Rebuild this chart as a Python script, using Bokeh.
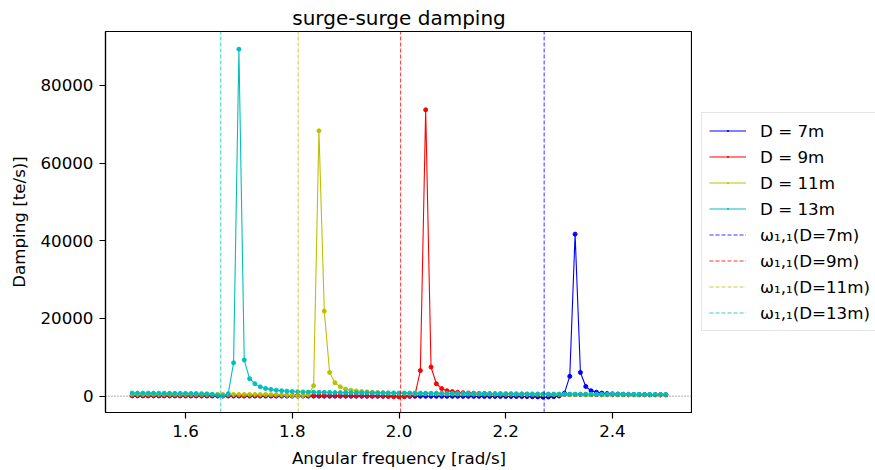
from bokeh.plotting import figure
from bokeh.layouts import row
from bokeh.models import Range1d, FixedTicker, Span, Legend, LegendItem, CustomJSTickFormatter
from bokeh.embed import file_html
from bokeh.resources import INLINE

# ---------------- data ----------------
freq = [round(1.50 + 0.01 * i, 2) for i in range(101)]  # rad/s grid

damp_d7 = [
    80, 78, 76, 74, 72, 70, 68, 66, 64, 62,
    60, 58, 56, 54, 52, 50, 48, 46, 44, 42,
    40, 38, 36, 34, 32, 30, 28, 26, 24, 22,
    20, 18, 16, 14, 12, 10, 8, 6, 4, 2,
    0, -2, -4, -6, -8, -10, -12, -14, -16, -18,
    -20, -22, -24, -26, -28, -30, -32, -34, -36, -38,
    -40, -42, -44, -46, -48, -50, -52, -54, -56, -58,
    -60, -65, -70, -80, -95,
    -130, -190, -260, -220, -120, 50,
    770, 5100, 41700, 6100,
    2500, 1400, 1030, 800, 680, 600, 545, 505, 475, 450, 430, 413, 398, 385, 374, 364,
]

damp_d9 = [
    220, 218, 216, 214, 212, 210, 208, 206, 204, 202,
    200, 198, 196, 194, 192, 190, 188, 186, 184, 182,
    180, 178, 176, 174, 172, 170, 168, 166, 164, 162,
    160, 158, 156, 154, 152, 150, 148, 146, 144, 142,
    140, 135, 130, 120, 110,
    90, 60, 20, -40, -120, -200, -150, 0, 350,
    6600, 73700, 7500,
    3200, 1950, 1400, 1180, 1000, 900, 820, 760, 710, 670, 635, 605, 580, 560,
    540, 522, 506, 492, 479, 467, 456, 446, 437, 429,
    421, 414, 407, 401, 395, 389, 384, 379, 374, 370,
    366, 362, 358, 354, 351, 348, 345, 342, 339, 336,
]

damp_d11 = [
    480, 478, 476, 474, 472, 470, 468, 466, 464, 462,
    460, 458, 456, 454, 452, 450, 448, 446, 444, 442,
    440, 435, 430, 425, 420, 410,
    390, 360, 310, 240, 150, 60, 150, 350,
    2700, 68300, 21900,
    6100, 3450, 2400, 1800, 1550, 1350, 1200, 1100, 1010, 940, 880, 830, 790, 750,
    720, 700, 680, 660, 645, 630, 615, 600, 590, 580,
    570, 560, 550, 540, 530, 520, 512, 505, 498, 490,
    483, 476, 470, 464, 458, 452, 447, 442, 437, 432,
    428, 424, 420, 416, 412, 408, 405, 402, 399, 396,
    393, 390, 387, 384, 381, 378, 375, 372, 369, 366,
]

damp_d13 = [
    800, 795, 790, 785, 780, 770, 760, 750, 740, 730, 720,
    700, 680, 650, 600, 500, 300, 60,
    650, 8600, 89300, 9300,
    4500, 3200, 2400, 2000, 1750, 1550, 1400, 1300, 1220, 1150, 1100, 1060, 1030, 1000,
    980, 960, 945, 930, 915, 900, 890, 880, 870, 860, 850, 840, 830, 820, 810,
    800, 795, 790, 785, 780, 770, 760, 750, 740, 730,
    720, 710, 700, 690, 680, 670, 660, 650, 640, 630,
    620, 610, 600, 590, 580, 570, 560, 550, 545, 540,
    535, 530, 525, 520, 515, 510, 505, 500, 495, 490,
    485, 480, 475, 470, 465, 460, 455, 450, 445, 440,
]

series_labels = ["D = 7m", "D = 9m", "D = 11m", "D = 13m"]
series_values = [damp_d7, damp_d9, damp_d11, damp_d13]
series_colors = ["#0000ff", "#ff0000", "#bfbf00", "#00bfbf"]

omega_values = [2.272, 2.003, 1.811, 1.666]
omega_labels = ["ω₁,₁(D=7m)", "ω₁,₁(D=9m)", "ω₁,₁(D=11m)", "ω₁,₁(D=13m)"]

x_ticks = [1.6, 1.8, 2.0, 2.2, 2.4]
y_ticks = [0, 20000, 40000, 60000, 80000]

X_START, X_END = 1.45, 2.55
Y_START, Y_END = -4200, 93850

FONT = "DejaVu Sans"

# ---------------- main figure ----------------
p = figure(
    width=692, height=470,
    x_range=Range1d(X_START, X_END), y_range=Range1d(Y_START, Y_END),
    output_backend="svg", toolbar_location=None,
    min_border_left=105, min_border_right=0, min_border_top=31, min_border_bottom=58,
    title="surge-surge damping",
)
p.background_fill_color = "white"
p.border_fill_color = "white"
p.xgrid.visible = False
p.ygrid.visible = False
p.outline_line_color = "black"
p.outline_line_width = 1.2
p.outline_line_alpha = 1.0

p.title.align = "center"
p.title.text_font = FONT
p.title.text_font_size = "20px"
p.title.text_font_style = "normal"
p.title.text_color = "black"
p.title.standoff = 4

for ax in (p.xaxis[0], p.yaxis[0]):
    ax.axis_line_color = "black"
    ax.axis_line_width = 1.2
    ax.major_tick_line_color = "black"
    ax.major_tick_line_width = 1.2
    ax.major_tick_out = 6
    ax.major_tick_in = 0
    ax.minor_tick_line_color = None
    ax.major_label_text_font = FONT
    ax.major_label_text_font_size = "16.7px"
    ax.major_label_text_color = "black"
    ax.major_label_standoff = 6
    ax.axis_label_text_font = FONT
    ax.axis_label_text_font_size = "16.7px"
    ax.axis_label_text_font_style = "normal"
    ax.axis_label_text_color = "black"

p.xaxis[0].ticker = FixedTicker(ticks=x_ticks)
p.yaxis[0].ticker = FixedTicker(ticks=y_ticks)
p.xaxis[0].formatter = CustomJSTickFormatter(code="return tick.toFixed(1);")
p.yaxis[0].formatter = CustomJSTickFormatter(code="return tick.toFixed(0);")
p.xaxis[0].axis_label = "Angular frequency [rad/s]"
p.yaxis[0].axis_label = "Damping [te/s)]"
p.xaxis[0].axis_label_standoff = 8
p.yaxis[0].axis_label_standoff = 8

# zero line
p.add_layout(Span(location=0, dimension="width", line_color="#444444",
                  line_width=1, line_dash="1 2", line_alpha=0.8))

for vals, col in zip(series_values, series_colors):
    p.line(freq, vals, line_color=col, line_width=1.1)
    p.scatter(freq, vals, size=4, fill_color=col, line_color=col)

for w, col in zip(omega_values, series_colors):
    p.segment(x0=[w], y0=[Y_START], x1=[w], y1=[Y_END],
              line_color=col, line_width=1, line_dash="4 2", line_alpha=0.8)

# ---------------- legend panel (separate figure to the right) ----------------
lf = figure(
    width=183, height=470,
    x_range=Range1d(X_START, X_END), y_range=Range1d(Y_START, Y_END),
    x_axis_location=None, y_axis_location=None,
    output_backend="svg", toolbar_location=None,
    min_border_left=0, min_border_right=0, min_border_top=0, min_border_bottom=0,
)
lf.xgrid.visible = False
lf.ygrid.visible = False
lf.outline_line_color = None
lf.background_fill_color = "white"
lf.border_fill_color = "white"

items = []
for lab, vals, col in zip(series_labels, series_values, series_colors):
    rl = lf.line(freq, vals, line_color=col, line_width=1.1, visible=False)
    rdot = lf.scatter(freq, vals, marker="dot", size=4, line_color=col,
                      fill_color=col, visible=False)
    items.append(LegendItem(label=lab, renderers=[rl, rdot]))
for lab, w, col in zip(omega_labels, omega_values, series_colors):
    rv = lf.segment(x0=[w], y0=[Y_START], x1=[w], y1=[Y_END], line_color=col,
                    line_width=1, line_dash="4 2", line_alpha=0.8, visible=False)
    items.append(LegendItem(label=lab, renderers=[rv]))

legend = Legend(items=items, location=(9, 81))
legend.label_text_font = FONT
legend.label_text_font_size = "16.7px"
legend.label_text_color = "black"
legend.glyph_width = 37
legend.glyph_height = 21
legend.label_height = 21
legend.spacing = 5
legend.padding = 7
legend.margin = 0
legend.label_standoff = 14
legend.border_line_color = "#cccccc"
legend.border_line_width = 1
legend.background_fill_alpha = 0.8
legend.inactive_fill_alpha = 0.0
lf.add_layout(legend, "center")

layout = row(p, lf)
open("out.html", "w").write(file_html(layout, INLINE))
